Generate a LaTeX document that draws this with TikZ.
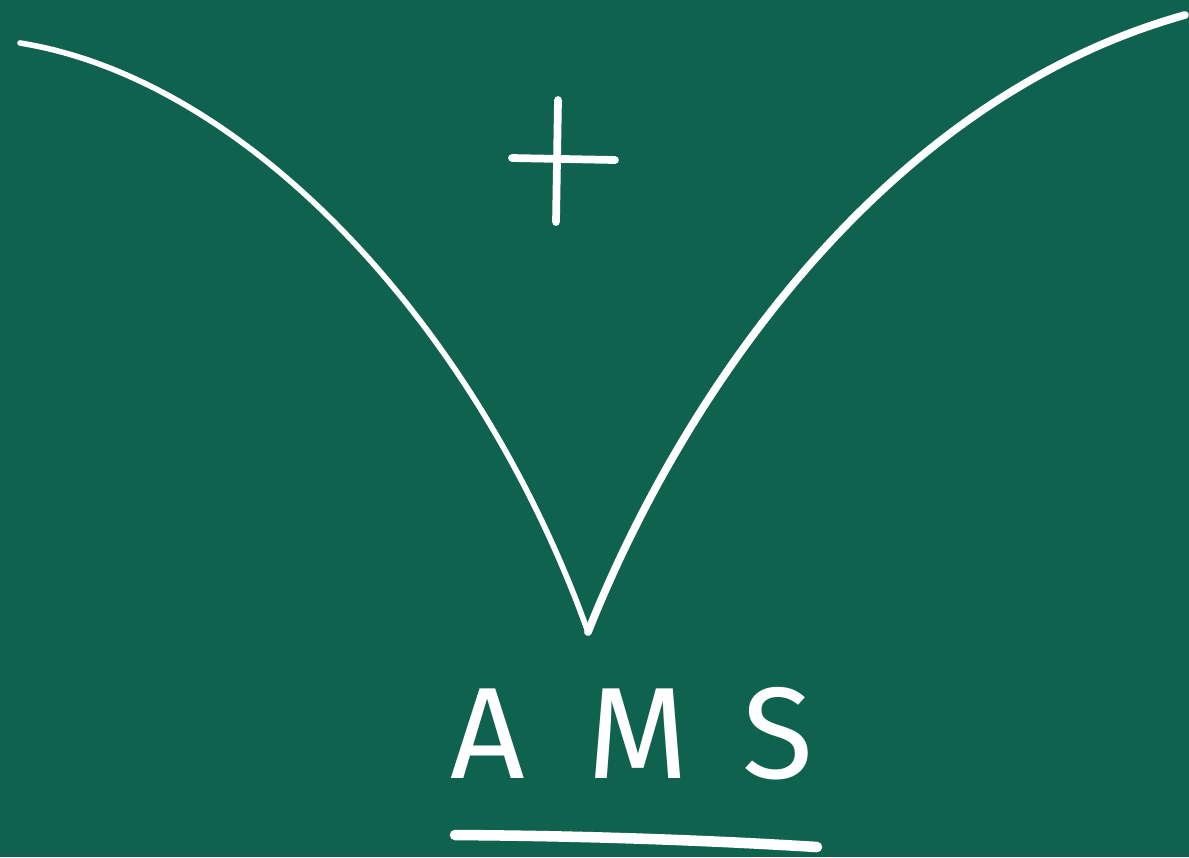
\documentclass[tikz,border=0pt]{standalone}
\usepackage{fontspec}
\setsansfont{Fira Sans}
\usepackage{tikz}
\usetikzlibrary{positioning, calc}
\definecolor{boardGreen}{RGB}{15, 99, 78}

\begin{document}
\begin{tikzpicture}[
    x=0.01cm, y=-0.01cm,
    chalk/.style={draw=white, line cap=round, line join=round},
    label/.style={text=white, font=\sffamily\fontsize{37}{40}\selectfont, inner sep=0pt}
]

% Board
\fill[boardGreen] (0,0) rectangle (1189,857);
\useasboundingbox (0,0) rectangle (1189,857);

% Cusp curve
\coordinate (tipL) at (20,43);
\coordinate (cusp) at (588,632);
\coordinate (tipR) at (1185,15);
\draw[chalk, line width=1.6pt] (tipL) .. controls (250,80) and (480,330) .. (cusp);
\draw[chalk, line width=2.2pt] (cusp) .. controls (680,400) and (880,100) .. (tipR);

% Plus sign
\coordinate (plusT) at (558,100);
\coordinate (plusB) at (556,222);
\coordinate (plusL) at (512,158);
\coordinate (plusR) at (615,160);
\draw[chalk, line width=2.2pt] (plusT) -- (plusB);
\draw[chalk, line width=2.2pt] (plusL) -- (plusR);

% Label
\node[label, anchor=base west] (ams) at (450,778) {A\hspace{0.62cm}M\hspace{0.54cm}S};

% Underline
\coordinate (ulL) at (455,835);
\coordinate (ulR) at (817,847);
\draw[chalk, line width=3pt] (ulL) .. controls (600,836) and (720,841) .. (ulR);

\end{tikzpicture}
\end{document}
